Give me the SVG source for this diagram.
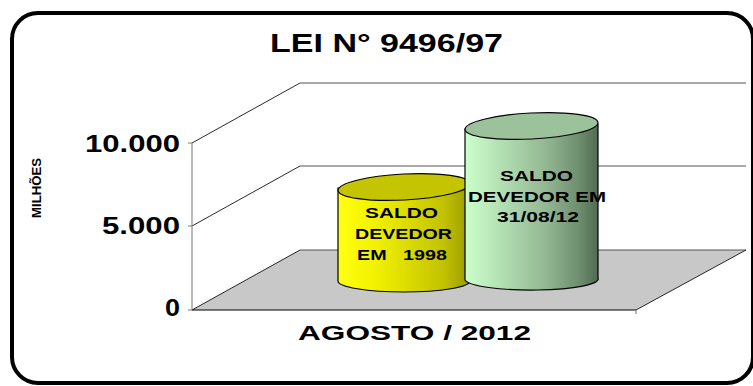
<svg xmlns="http://www.w3.org/2000/svg" width="753" height="386" viewBox="0 0 753 386">
<defs>
<linearGradient id="gy" x1="0" x2="1" y1="0" y2="0">
<stop offset="0" stop-color="#ffff10"/>
<stop offset="0.25" stop-color="#f4f400"/>
<stop offset="0.5" stop-color="#dede00"/>
<stop offset="0.8" stop-color="#c2c200"/>
<stop offset="1" stop-color="#9a9a00"/>
</linearGradient>
<linearGradient id="gg" x1="0" x2="1" y1="0" y2="0">
<stop offset="0" stop-color="#ccffcc"/>
<stop offset="0.3" stop-color="#b0dcb0"/>
<stop offset="0.6" stop-color="#94b894"/>
<stop offset="0.85" stop-color="#6f8f6f"/>
<stop offset="1" stop-color="#526a52"/>
</linearGradient>
<style>
text{font-family:"Liberation Sans",Arial,sans-serif;font-weight:bold;fill:#000}
.grid{stroke:#555;stroke-width:1;fill:none}
.diag{stroke:#111;stroke-width:0.9;fill:none}
.cyl{stroke:#000;stroke-width:1.2}
</style>
</defs>
<rect x="12" y="13" width="741" height="370" rx="26" ry="26" fill="#fff" stroke="#000" stroke-width="4"/>
<text x="270" y="52" font-size="25" textLength="233" lengthAdjust="spacingAndGlyphs">LEI N° 9496/97</text>
<g id="axes">
<polygon points="192,310 300,250 746,250 636,310" fill="#c8c8c8" stroke="none"/>
<line class="grid" x1="300" y1="250" x2="746" y2="250"/>
<line class="diag" x1="192" y1="310" x2="300" y2="250"/>
<line class="diag" x1="746" y1="250" x2="636" y2="310"/>
<line x1="192" y1="310" x2="636" y2="310" stroke="#000" stroke-width="1.2"/>
<line class="diag" x1="192" y1="143" x2="300" y2="83"/>
<line class="grid" x1="300" y1="83" x2="746" y2="83"/>
<line class="diag" x1="192" y1="226" x2="300" y2="166"/>
<line class="grid" x1="300" y1="166" x2="746" y2="166"/>
<line x1="192" y1="143" x2="192" y2="310" stroke="#777" stroke-width="1"/>
<line x1="188" y1="143" x2="192" y2="143" stroke="#777"/>
<line x1="188" y1="226" x2="192" y2="226" stroke="#777"/>
<line x1="188" y1="310" x2="192" y2="310" stroke="#777"/>
<line x1="636" y1="310" x2="636" y2="314" stroke="#777"/>
</g>
<g id="labels">
<text x="85" y="152" font-size="23.5" textLength="95" lengthAdjust="spacingAndGlyphs">10.000</text>
<text x="102" y="234" font-size="23.5" textLength="78" lengthAdjust="spacingAndGlyphs">5.000</text>
<text x="165" y="316" font-size="23.5" textLength="15" lengthAdjust="spacingAndGlyphs">0</text>
<text x="298" y="340" font-size="21" textLength="233" lengthAdjust="spacingAndGlyphs">AGOSTO / 2012</text>
<text transform="translate(41,218) rotate(-90)" font-size="12" textLength="60" lengthAdjust="spacingAndGlyphs">MILHÕES</text>
</g>
<g id="bar1998">
<path class="cyl" fill="url(#gy)" d="M338,188 L338,281 A66,11 0 0 0 470,281 L470,186 Z"/>
<ellipse class="cyl" cx="404" cy="187" rx="66" ry="13" fill="#c4c400" transform="rotate(-3 404 187)"/>
<text x="365" y="218" font-size="15" textLength="73" lengthAdjust="spacingAndGlyphs">SALDO</text>
<text x="355" y="239" font-size="15" textLength="97" lengthAdjust="spacingAndGlyphs">DEVEDOR</text>
<text x="357" y="260" font-size="15" textLength="90" lengthAdjust="spacingAndGlyphs" xml:space="preserve">EM   1998</text>
</g>
<g id="bar2012">
<path class="cyl" fill="url(#gg)" d="M465,129 L465,280 A66.5,11 0 0 0 598,278 L598,124 Z"/>
<ellipse class="cyl" cx="531.5" cy="126" rx="66.5" ry="13" fill="#9cc29c" transform="rotate(-3 531.5 126)"/>
<text x="500" y="181" font-size="15" textLength="73" lengthAdjust="spacingAndGlyphs">SALDO</text>
<text x="468" y="202" font-size="15" textLength="138" lengthAdjust="spacingAndGlyphs">DEVEDOR EM</text>
<text x="497" y="222" font-size="15" textLength="82" lengthAdjust="spacingAndGlyphs">31/08/12</text>
</g>
</svg>
